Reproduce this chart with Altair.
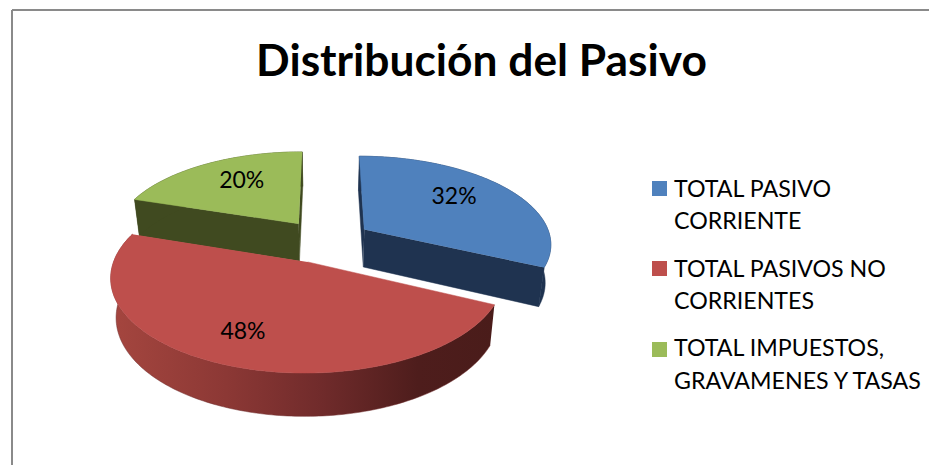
import math
import altair as alt
import pandas as pd

title_text = "Distribución del Pasivo"
values = [32, 48, 20]
labels = ["32%", "48%", "20%"]
legend_lines = [["TOTAL PASIVO", "CORRIENTE"], ["TOTAL PASIVOS NO", "CORRIENTES"], ["TOTAL IMPUESTOS,", "GRAVAMENES Y TASAS"]]
top_colors = ["#4f81bd", "#be4f4c", "#9bbb59"]
wall_colors = ["#1f3350", "#4a1c1a", "#404a20"]

# projection of the tilted pie
X0, Y0, A, B, K = 325.5, 240.9, 187.3, 87.4, 0.15
EXPLODE, WALL, SHRINK = 0.25, 38.0, 0.975
LABEL_R = 0.7
label_nudge = [(-11, -3), (-7, 2), (10, 0)]
W, H = 921, 457
FONT = "Lato"


def project(x, z, low=False):
    s = 1 / (1 + K * z)
    px = X0 + A * x * s
    py = Y0 - B * z * s
    if low:
        px = X0 + (px - X0) * SHRINK
        py = Y0 + (py - Y0) * SHRINK + WALL * s
    return px, py


xs = alt.X("x:Q", scale=alt.Scale(domain=[8, 8 + W], zero=False, nice=False), axis=None)
ys = alt.Y("y:Q", scale=alt.Scale(domain=[8 + H, 8], zero=False, nice=False), axis=None)


def poly(points, fill):
    df = pd.DataFrame({"x": [p[0] for p in points], "y": [p[1] for p in points], "i": list(range(len(points)))})
    stroke = fill if isinstance(fill, str) else "#6e2a2a"
    return alt.Chart(df).mark_line(filled=True, fill=fill, stroke=stroke, strokeWidth=0.5, opacity=1, clip=False).encode(
        x=xs, y=ys, order=alt.Order("i:Q")
    )


total = sum(values)
slices = []
acc = 0.0
for v in values:
    a0 = acc / total * 2 * math.pi
    acc += v
    a1 = acc / total * 2 * math.pi
    mid = (a0 + a1) / 2
    slices.append((a0, a1, EXPLODE * math.sin(mid), EXPLODE * math.cos(mid), mid))


def arc(sl, low=False):
    a0, a1, ex, ez, _ = sl
    n = max(2, int(math.degrees(a1 - a0)))
    out = []
    for j in range(n + 1):
        t = a0 + (a1 - a0) * j / n
        out.append(project(ex + math.sin(t), ez + math.cos(t), low))
    return out


red_wall = alt.Gradient(
    gradient="linear", x1=0, x2=1, y1=0, y2=0,
    stops=[
        alt.GradientStop(offset=0, color="#a5463f"),
        alt.GradientStop(offset=0.3, color="#8c3835"),
        alt.GradientStop(offset=0.55, color="#702b2b"),
        alt.GradientStop(offset=0.8, color="#4e1d1c"),
        alt.GradientStop(offset=1, color="#4a1c1a"),
    ],
)

layers = []
# frame
frame_color = "#8a8a8a"
layers.append(alt.Chart(pd.DataFrame({"x": [12], "x2": [8 + W], "y": [10]})).mark_rule(color=frame_color, strokeWidth=2).encode(x=xs, x2="x2:Q", y=ys))
layers.append(alt.Chart(pd.DataFrame({"x": [12], "y": [10], "y2": [8 + H]})).mark_rule(color=frame_color, strokeWidth=2).encode(x=xs, y=ys, y2="y2:Q"))

for idx in [2, 0, 1]:
    sl = slices[idx]
    a0, a1, ex, ez, _ = sl
    top = arc(sl)
    low = arc(sl, True)
    apex, apex_low = project(ex, ez), project(ex, ez, True)
    wall_fill = red_wall if idx == 1 else wall_colors[idx]
    # radial walls
    if idx != 1:
        layers.append(poly([apex, top[0], low[0], apex_low], wall_colors[idx]))
        layers.append(poly([apex, top[-1], low[-1], apex_low], wall_colors[idx]))
    # outer wall
    layers.append(poly(top + low[::-1], wall_fill))
    # top face
    layers.append(poly([apex] + top, top_colors[idx]))

# value labels
lab = []
for idx, sl in enumerate(slices):
    _, _, ex, ez, mid = sl
    px, py = project(ex + LABEL_R * math.sin(mid), ez + LABEL_R * math.cos(mid))
    lab.append({"x": px + label_nudge[idx][0], "y": py + label_nudge[idx][1], "t": labels[idx]})
layers.append(alt.Chart(pd.DataFrame(lab)).mark_text(font=FONT, fontSize=23, color="#000000", align="center", baseline="middle").encode(x=xs, y=ys, text="t:N"))

# title
layers.append(alt.Chart(pd.DataFrame({"x": [481.5], "y": [63], "t": [title_text]})).mark_text(font=FONT, fontSize=44.3, fontWeight="bold", color="#000000", align="center", baseline="middle").encode(x=xs, y=ys, text="t:N"))

# legend
rows = [(181, 190, 222), (261, 270, 302), (342, 349, 382)]
for idx, (sq, y1, y2) in enumerate(rows):
    layers.append(alt.Chart(pd.DataFrame({"x": [652], "x2": [667], "y": [sq], "y2": [sq + 15]})).mark_rect(color=top_colors[idx]).encode(x=xs, x2="x2:Q", y=ys, y2="y2:Q"))
    layers.append(alt.Chart(pd.DataFrame({"x": [674, 674], "y": [y1, y2], "t": legend_lines[idx]})).mark_text(font=FONT, fontSize=23.2, color="#000000", align="left", baseline="middle").encode(x=xs, y=ys, text="t:N"))

chart = alt.layer(*layers).properties(width=W, height=H, padding=0, autosize=alt.AutoSizeParams(type="none"), background="white").configure_view(stroke=None)
chart.save("out.html", embed_options={"renderer": "svg", "actions": False})
